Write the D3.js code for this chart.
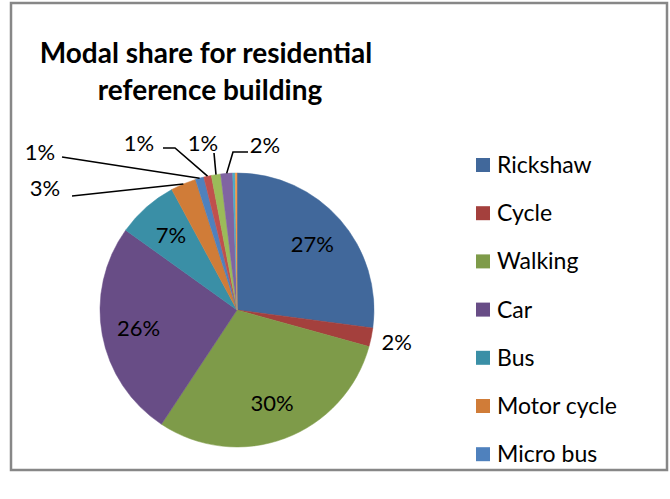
<!DOCTYPE html>
<html>
<head>
<meta charset="utf-8">
<script src="https://cdn.jsdelivr.net/npm/d3@7"></script>
<style>
    body { margin: 0; background: #fff; }
    svg { display: block; }
</style>
</head>
<body>
<svg id="chart" width="670" height="499"></svg>
<script>
// Modes (last ones are not shown in the legend, like the original)
const modes = ["Rickshaw", "Cycle", "Walking", "Car", "Bus", "Motor cycle", "Micro bus", "Tempo", "Van", "CNG", "Taxi", "Others"];
const shares = [27.1, 2.2, 30.0, 25.6, 7.2, 3.0, 1.0, 0.9, 1.1, 1.4, 0.3, 0.2];
const labels = ["27%", "2%", "30%", "26%", "7%", "3%", "1%", "1%", "1%", "2%", "", ""];
const colors = ["#41689b", "#a4403d", "#7e9b49", "#684d86", "#3a8fa6", "#d07c38",
                "#4f81bd", "#c0504d", "#9bbb59", "#8064a2", "#4bacc6", "#f79646"];
const legendCount = 7;

const svg = d3.select("#chart");
const cx = 237, cy = 310, radius = 137;

// chart frame
svg.append("rect")
    .attr("x", 11).attr("y", 3)
    .attr("width", 656).attr("height", 467)
    .attr("fill", "#fff")
    .attr("stroke", "#878787")
    .attr("stroke-width", 2.5);

// title
const title = svg.append("text")
    .attr("text-anchor", "middle")
    .style("font-family", "Lato, 'Open Sans', sans-serif")
    .style("font-weight", "bold")
    .style("font-size", "28px")
    .attr("fill", "#000");
title.append("tspan").attr("x", 206).attr("y", 63).text("Modal share for residential");
title.append("tspan").attr("x", 210).attr("y", 100).text("reference building");

const data = modes.map((m, i) => ({ mode: m, value: shares[i], label: labels[i], color: colors[i], i: i }));

const pie = d3.pie().sort(null).value(d => d.value);
const arcs = pie(data);

const arc = d3.arc().innerRadius(0).outerRadius(radius);
const labelArc = d3.arc().innerRadius(100).outerRadius(100);
const outArc = d3.arc().innerRadius(163).outerRadius(163);
const edgeArc = d3.arc().innerRadius(radius).outerRadius(radius);

const g = svg.append("g").attr("transform", `translate(${cx}, ${cy})`);

g.selectAll("path.slice")
    .data(arcs)
    .enter()
    .append("path")
    .attr("class", "slice")
    .attr("d", arc)
    .attr("fill", d => d.data.color)
    .attr("stroke", d => d.data.color)
    .attr("stroke-width", 0.5);

const labelFont = "Lato, 'Open Sans', sans-serif";
const labelSize = "22px";

// inside labels (big slices)
const inside = [0, 2, 3, 4];
g.selectAll("text.in")
    .data(arcs.filter(d => inside.includes(d.index)))
    .enter()
    .append("text")
    .attr("class", "in")
    .attr("transform", d => `translate(${labelArc.centroid(d)})`)
    .attr("text-anchor", "middle")
    .attr("dy", "0.35em")
    .style("font-family", labelFont)
    .style("font-size", labelSize)
    .text(d => d.data.label);

// cycle label just outside
g.selectAll("text.out")
    .data(arcs.filter(d => d.index === 1))
    .enter()
    .append("text")
    .attr("class", "out")
    .attr("transform", d => `translate(${outArc.centroid(d)})`)
    .attr("text-anchor", "middle")
    .attr("dy", "0.35em")
    .style("font-family", labelFont)
    .style("font-size", labelSize)
    .text(d => d.data.label);

// small slices with leader lines: label position and where the line leaves it
const leaders = [
    { index: 5, tx: 45, ty: 188, lx: 72, ly: 196, ex: 72 },
    { index: 6, tx: 40, ty: 152, lx: 62, ly: 157, ex: 62 },
    { index: 7, tx: 139, ty: 143, lx: 163, ly: 148, ex: 175 },
    { index: 8, tx: 203, ty: 143, lx: 214, ly: 153, ex: 214 },
    { index: 9, tx: 265, ty: 145, lx: 248, ly: 152, ex: 233 }
];

leaders.forEach(l => {
    const d = arcs[l.index];
    const [px, py] = edgeArc.centroid(d);
    svg.append("polyline")
        .attr("points", `${l.lx},${l.ly} ${l.ex},${l.ly} ${cx + px},${cy + py}`)
        .attr("fill", "none")
        .attr("stroke", "#000")
        .attr("stroke-width", 1.6);
    svg.append("text")
        .attr("x", l.tx).attr("y", l.ty)
        .attr("text-anchor", "middle")
        .attr("dy", "0.35em")
        .style("font-family", labelFont)
        .style("font-size", labelSize)
        .text(d.data.label);
});

// legend (only first seven fit)
const legend = svg.append("g").attr("transform", "translate(476, 165)");
const step = 48.2;
const items = legend.selectAll("g.item")
    .data(data.slice(0, legendCount))
    .enter()
    .append("g")
    .attr("class", "item")
    .attr("transform", (d, i) => `translate(0, ${i * step})`);

items.append("rect")
    .attr("x", 0).attr("y", -7)
    .attr("width", 14).attr("height", 14)
    .attr("fill", d => d.color);

items.append("text")
    .attr("x", 21)
    .attr("dy", "0.35em")
    .style("font-family", labelFont)
    .style("font-size", "23px")
    .text(d => d.mode);
</script>
</body>
</html>
